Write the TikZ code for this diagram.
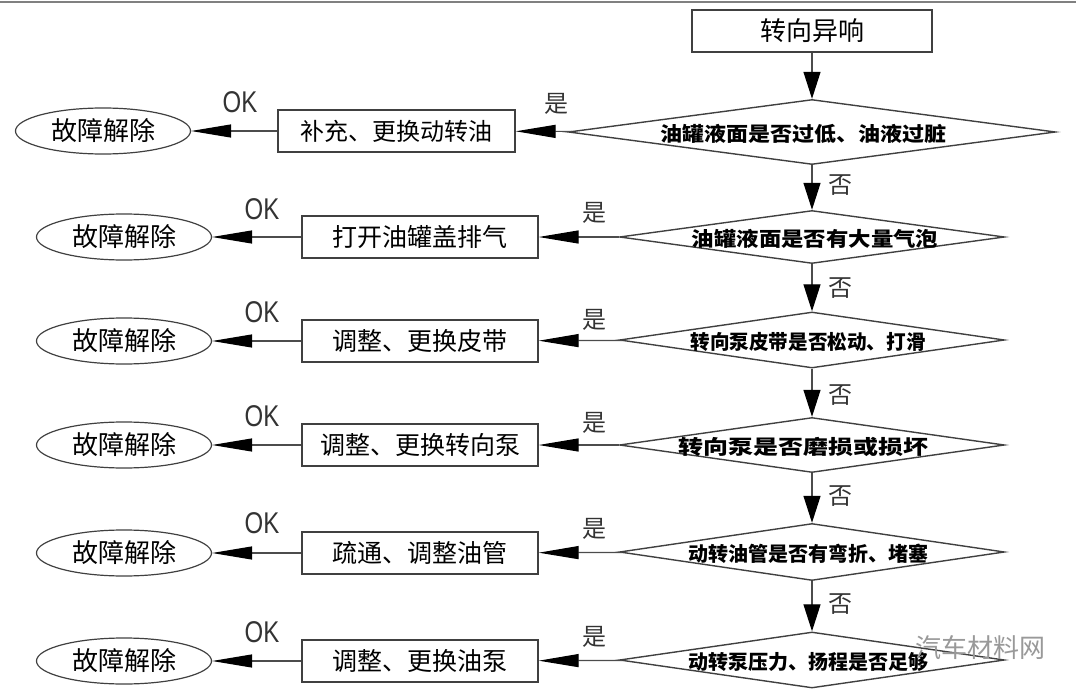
\documentclass[tikz,border=0pt]{standalone}
\usepackage{fontspec}
\usepackage{graphicx}
\newfontfamily\cjk{Noto Sans CJK SC}
\newfontfamily\okfont[FakeStretch=0.8]{Liberation Sans}
\usetikzlibrary{shapes.geometric,arrows.meta}
\tikzset{
  linecol/.style={draw=black!75},
  stepbox/.style={linecol, line width=1.3pt, rectangle, minimum width=236pt, minimum height=42pt, inner sep=0pt, font=\cjk\fontsize{25}{25}\selectfont},
  endbox/.style={linecol, line width=1.2pt, ellipse, minimum width=175pt, minimum height=46pt, inner sep=0pt, font=\cjk\fontsize{26}{26}\selectfont},
  dia/.style={linecol, line width=1.4pt, diamond, inner sep=0pt, minimum width=385pt},
  dtext/.style={inner sep=0pt, font=\cjk\bfseries\fontsize{20}{20}\selectfont},
  harrow/.style={draw=black!70, line width=1.2pt, -{Triangle[length=40pt,width=13pt,color=black]}},
  varrow/.style={draw=black!70, line width=1.2pt, -{Triangle[length=27pt,width=17pt,color=black]}},
  oklbl/.style={inner sep=0pt, font=\okfont\fontsize{30}{30}\selectfont, text=black!80},
  yn/.style={inner sep=0pt, font=\cjk\fontsize{24}{24}\selectfont, text=black!80},
}
\begin{document}
\begin{tikzpicture}[x=1pt,y=-1pt]
\useasboundingbox (0,0) rectangle (1080,693);
\draw[gray, line width=1.5pt] (0,2) -- (1076,2);

% main column
\node[stepbox, minimum width=240pt, font=\cjk\fontsize{26}{26}\selectfont] (start) at (812,31) {转向异响};
\node[dia, minimum width=487pt, minimum height=65pt] (d1) at (812,132) {};
\node[dia, minimum height=53pt] (d2) at (812,237) {};
\node[dia, minimum height=56pt] (d3) at (812,340) {};
\node[dia, minimum height=55pt] (d4) at (812,445) {};
\node[dia, minimum height=57pt] (d5) at (812,552) {};
\node[dia, minimum height=56pt] (d6) at (812,660) {};

\node[dtext] (t1) at (803,134) {\scalebox{1.1}[1]{油罐液面是否过低、油液过脏}};
\node[dtext] (t2) at (815,239) {\scalebox{1.12}[1]{油罐液面是否有大量气泡}};
\node[dtext] (t3) at (808,342) {\scalebox{0.98}[1]{转向泵皮带是否松动、打滑}};
\node[dtext] (t4) at (803,447) {\scalebox{1.25}[1]{转向泵是否磨损或损坏}};
\node[dtext] (t5) at (808,554) {\scalebox{1.0}[1]{动转油管是否有弯折、堵塞}};
\node[dtext] (t6) at (808,662) {\scalebox{1.0}[1]{动转泵压力、扬程是否足够}};

% action boxes
\node[stepbox, minimum width=237pt, font=\cjk\fontsize{24}{24}\selectfont] (r1) at (396.5,131) {补充、更换动转油};
\node[stepbox] (r2) at (420,237) {打开油罐盖排气};
\node[stepbox] (r3) at (420,341) {调整、更换皮带};
\node[stepbox] (r4) at (420,445) {调整、更换转向泵};
\node[stepbox] (r5) at (420,553) {疏通、调整油管};
\node[stepbox] (r6) at (420,661) {调整、更换油泵};

% end ellipses
\node[endbox] (e1) at (103,131) {故障解除};
\node[endbox] (e2) at (124,237) {故障解除};
\node[endbox] (e3) at (124,341) {故障解除};
\node[endbox] (e4) at (124,445) {故障解除};
\node[endbox] (e5) at (124,553) {故障解除};
\node[endbox] (e6) at (124,661) {故障解除};

% vertical flow
\draw[varrow] (start) -- (d1);
\draw[varrow] (d1) -- (d2);
\draw[varrow] (d2) -- (d3);
\draw[varrow] (d3) -- (d4);
\draw[varrow] (d4) -- (d5);
\draw[varrow] (d5) -- (d6);

% horizontal flow
\foreach \i in {1,...,6}{
  \draw[harrow] (d\i) -- (r\i);
  \draw[harrow] (r\i) -- (e\i);
}

% labels
\node[oklbl] (ok1) at (240,102) {OK};
\node[oklbl] (ok2) at (262,209) {OK};
\node[oklbl] (ok3) at (262,312) {OK};
\node[oklbl] (ok4) at (262,416) {OK};
\node[oklbl] (ok5) at (262,523) {OK};
\node[oklbl] (ok6) at (262,632) {OK};

\node[yn] (y1) at (556,104) {是};
\node[yn] (y2) at (594,213) {是};
\node[yn] (y3) at (594,320) {是};
\node[yn] (y4) at (594,423) {是};
\node[yn] (y5) at (594,529) {是};
\node[yn] (y6) at (594,637) {是};

\node[yn] (n1) at (840,185) {否};
\node[yn] (n2) at (840,288) {否};
\node[yn] (n3) at (840,395) {否};
\node[yn] (n4) at (840,496) {否};
\node[yn] (n5) at (840,604) {否};

% watermark
\node[inner sep=0pt, font=\cjk\fontsize{26}{26}\selectfont, text=black!40] (wm) at (980,648) {汽车材料网};
\end{tikzpicture}
\end{document}
